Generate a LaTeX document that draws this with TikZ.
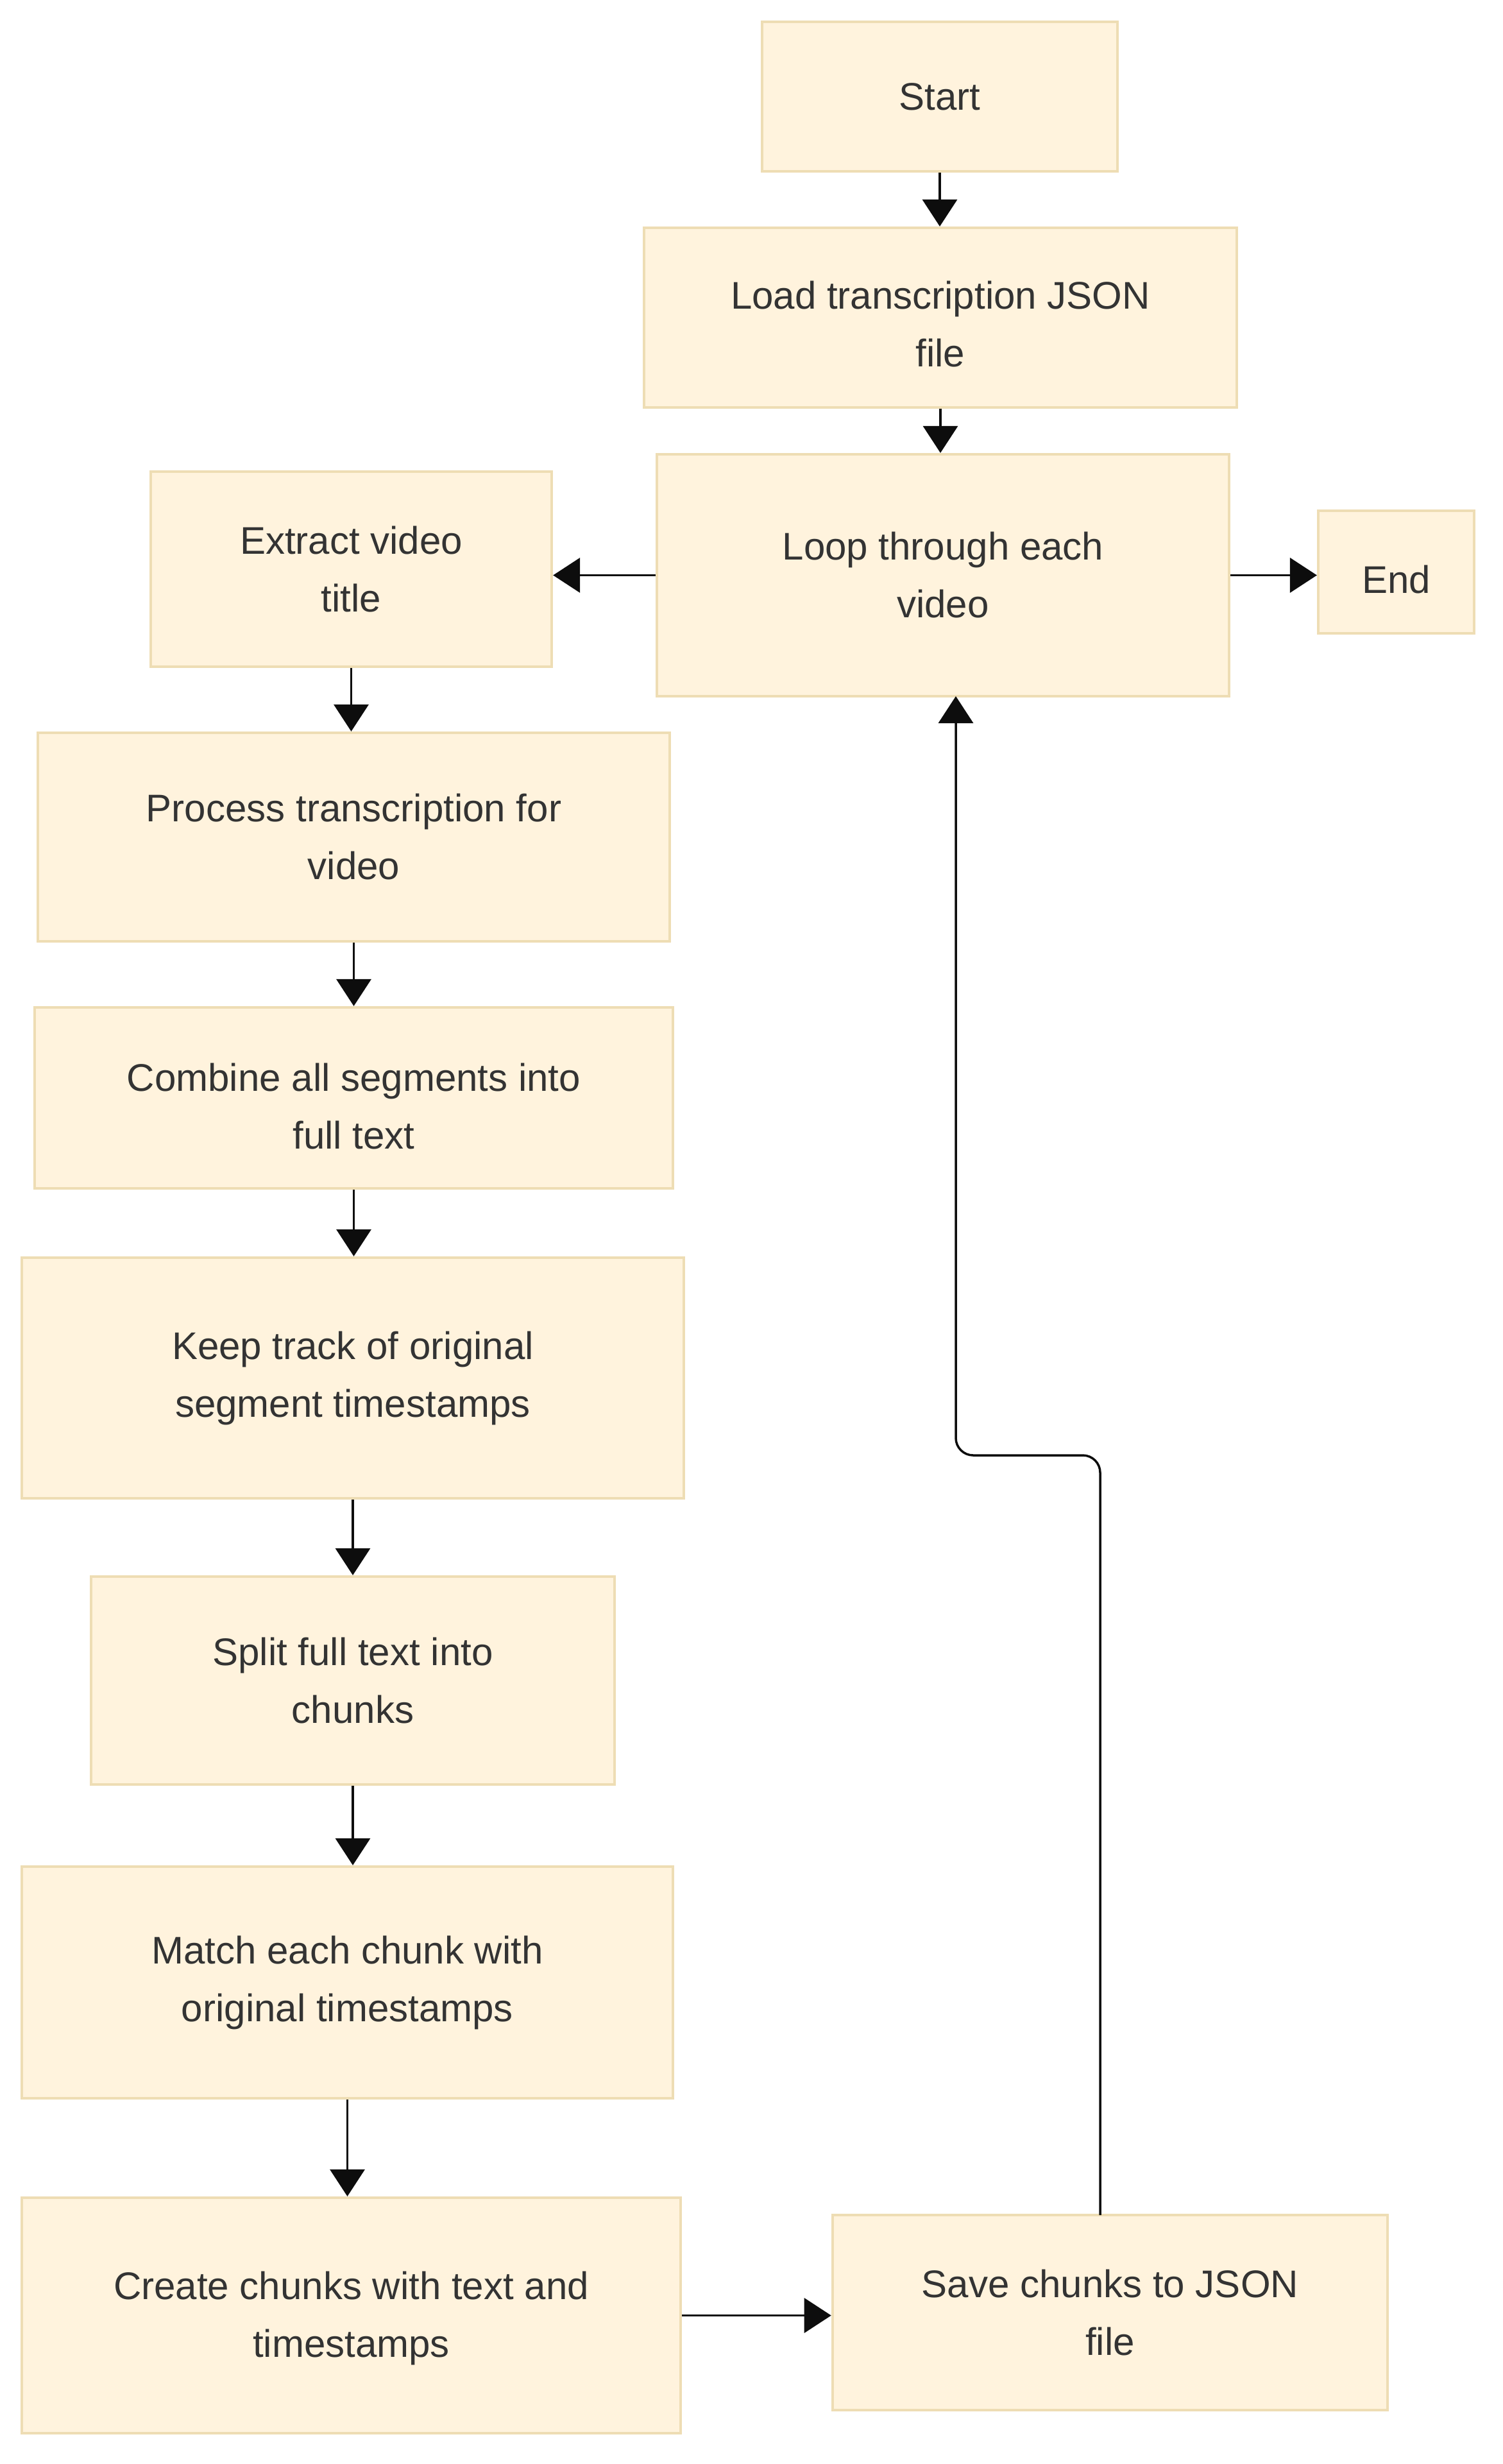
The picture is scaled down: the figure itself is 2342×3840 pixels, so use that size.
\documentclass[tikz,border=0pt]{standalone}
\usepackage{fontspec}
\setmainfont{Liberation Sans}
\usetikzlibrary{arrows.meta}
\definecolor{boxfill}{HTML}{FFF3DD}
\definecolor{boxline}{HTML}{EEDDB4}
\definecolor{txt}{HTML}{333333}
\begin{document}
\begin{tikzpicture}[x=0.01cm,y=-0.01cm,
  boxtext/.style={inner sep=0pt, align=center, text=txt, font=\fontsize{17.07pt}{25.6pt}\selectfont},
  box/.style={boxtext, draw=boxline, fill=boxfill, line width=0.04cm},
  conn/.style={line width=0.035cm, draw=black!95, -{Triangle[length=0.42cm,width=0.54cm]}}]
\useasboundingbox (0,0) rectangle (2342,3840);
\node[box, minimum width=5.54cm, minimum height=2.33cm] (start) at (1465,150.5) {Start};
\node[box, minimum width=9.24cm, minimum height=2.80cm] (load) at (1466,495) {};
\node[boxtext] (loadtext) at (1466,505) {Load transcription JSON\\file};
\node[box, minimum width=8.92cm, minimum height=3.77cm] (loop) at (1470,896.5) {Loop through each\\video};
\node[box, minimum width=2.43cm, minimum height=1.91cm] (end) at (2176.5,891.5) {};
\node[boxtext] (endtext) at (2176.5,903) {End};
\node[box, minimum width=6.25cm, minimum height=3.04cm] (extract) at (547.5,887) {Extract video\\title};
\node[box, minimum width=9.85cm, minimum height=3.25cm] (process) at (551.5,1304.5) {Process transcription for\\video};
\node[box, minimum width=9.95cm, minimum height=2.82cm] (combine) at (551.5,1711) {};
\node[boxtext] (combinetext) at (551.5,1724) {Combine all segments into\\full text};
\node[box, minimum width=10.32cm, minimum height=3.75cm] (keep) at (550,2147.5) {Keep track of original\\segment timestamps};
\node[box, minimum width=8.16cm, minimum height=3.24cm] (split) at (550,2619) {Split full text into\\chunks};
\node[box, minimum width=10.15cm, minimum height=3.61cm] (match) at (541.5,3089.5) {Match each chunk with\\original timestamps};
\node[box, minimum width=10.27cm, minimum height=3.67cm] (create) at (547.5,3608.5) {};
\node[boxtext] (createtext) at (547.5,3613) {Create chunks with text and\\timestamps};
\node[box, minimum width=8.65cm, minimum height=3.04cm] (save) at (1730.5,3604) {Save chunks to JSON\\file};

\draw[conn] (start.south) -- (start.south |- load.north);
\draw[conn] (load.south) -- (load.south |- loop.north);
\draw[conn] (loop.west) -- (loop.west -| extract.east);
\draw[conn] (loop.east) -- (loop.east -| end.west);
\draw[conn] (extract.south) -- (extract.south |- process.north);
\draw[conn] (process.south) -- (process.south |- combine.north);
\draw[conn] (combine.south) -- (combine.south |- keep.north);
\draw[conn] (keep.south) -- (keep.south |- split.north);
\draw[conn] (split.south) -- (split.south |- match.north);
\draw[conn] (match.south) -- (match.south |- create.north);
\draw[conn] (create.east) -- (create.east -| save.west);
\coordinate (s1) at (1715,3452);
\coordinate (s2) at (1715,2268);
\coordinate (s3) at (1490,2268);
\coordinate (s4) at (1490,1085);
\draw[conn, rounded corners=0.27cm] (s1) -- (s2) -- (s3) -- (s4);
\end{tikzpicture}
\end{document}
